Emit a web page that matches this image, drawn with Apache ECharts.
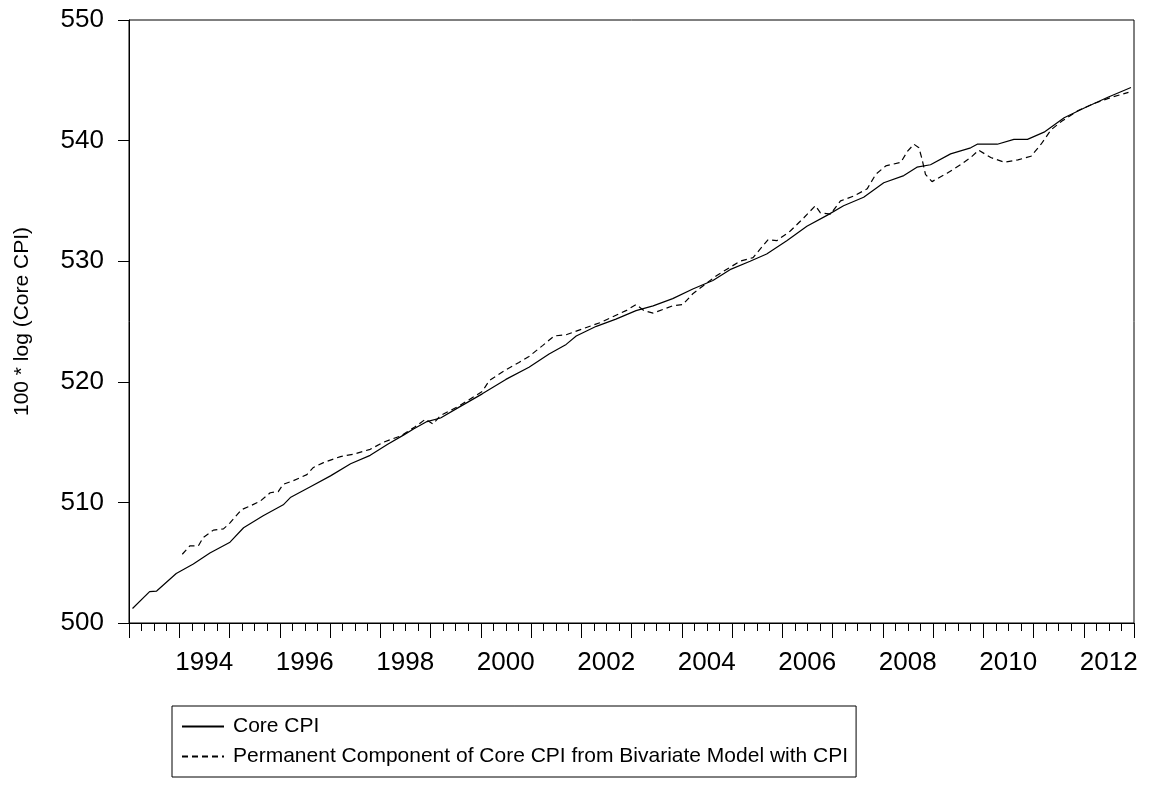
<!DOCTYPE html>
<html>
<head>
<meta charset="utf-8">
<script src="https://cdn.jsdelivr.net/npm/echarts@6/dist/echarts.min.js"></script>
<style>
html,body{margin:0;padding:0;background:#fff;}
#chart{width:1151px;height:787px;}
</style>
</head>
<body>
<div id="chart"></div>
<script>
// ---- Data ----
var coreDates = [1993.07,1993.41,1993.55,1993.94,1994.28,1994.61,1995.01,1995.28,1995.67,1996.07,1996.21,1996.61,1997.01,1997.41,1997.80,1998.14,1998.47,1998.67,1998.93,1999.20,1999.57,2000.03,2000.50,2000.96,2001.36,2001.70,2001.90,2002.30,2002.69,2003.09,2003.43,2003.82,2004.22,2004.62,2004.96,2005.36,2005.69,2006.09,2006.49,2006.89,2007.22,2007.62,2008.02,2008.42,2008.68,2008.95,2009.35,2009.75,2009.88,2010.28,2010.61,2010.88,2011.21,2011.61,2012.01,2012.48,2012.94];
var coreValues = [501.2,502.6,502.65,504.1,504.9,505.8,506.7,507.9,508.9,509.8,510.4,511.3,512.2,513.2,513.9,514.8,515.6,516.1,516.7,517.0,517.9,519.0,520.2,521.2,522.3,523.1,523.8,524.6,525.2,525.9,526.3,526.9,527.7,528.4,529.3,530.0,530.6,531.7,532.9,533.8,534.6,535.3,536.5,537.1,537.8,538.0,538.9,539.4,539.7,539.7,540.1,540.1,540.7,541.9,542.7,543.6,544.4];

var permDates = [1994.06,1994.21,1994.38,1994.48,1994.68,1994.88,1995.01,1995.24,1995.41,1995.61,1995.81,1995.97,1996.07,1996.27,1996.54,1996.67,1996.87,1997.21,1997.47,1997.80,1998.07,1998.40,1998.67,1998.90,1999.05,1999.20,1999.57,2000.03,2000.17,2000.50,2000.76,2000.96,2001.23,2001.46,2001.70,2001.90,2002.37,2002.89,2003.09,2003.25,2003.43,2003.82,2004.02,2004.22,2004.69,2005.16,2005.42,2005.72,2005.89,2006.16,2006.43,2006.66,2006.76,2006.96,2007.16,2007.42,2007.69,2007.86,2008.06,2008.36,2008.49,2008.62,2008.72,2008.78,2008.85,2008.98,2009.28,2009.55,2009.75,2009.91,2010.15,2010.42,2010.69,2010.95,2011.15,2011.35,2011.56,2011.89,2012.22,2012.56,2012.89];
var permValues = [505.7,506.4,506.4,507.1,507.7,507.8,508.3,509.4,509.7,510.1,510.8,510.9,511.5,511.8,512.3,512.9,513.3,513.8,514.0,514.4,515.0,515.5,516.2,516.9,516.5,517.2,518.0,519.2,520.1,521.0,521.6,522.1,523.0,523.8,523.9,524.2,524.9,525.9,526.4,525.9,525.7,526.3,526.4,527.3,528.8,530.0,530.3,531.8,531.7,532.5,533.6,534.6,534.0,533.9,535.0,535.4,536.0,537.2,537.9,538.2,539.1,539.7,539.4,538.5,537.2,536.6,537.3,538.0,538.6,539.2,538.6,538.2,538.4,538.7,539.7,540.9,541.6,542.5,543.1,543.6,544.0];

var seriesNames = ['Core CPI', 'Permanent Component of Core CPI from Bivariate Model with CPI'];
var yAxisName = '100 * log (Core CPI)';
var xMin = 1993, xMax = 2013;
var yMin = 500, yMax = 550, yStep = 10;

function pairs(xs, ys) { return xs.map(function (x, i) { return [x, ys[i]]; }); }

var FONT = '"Liberation Sans", Arial, sans-serif';
var chart = echarts.init(document.getElementById('chart'), null, {renderer: 'canvas'});
chart.setOption({
  animation: false,
  backgroundColor: '#fff',
  grid: {left: 129, right: 17, top: 20, bottom: 164, show: true, borderColor: '#000', borderWidth: 1, backgroundColor: 'transparent'},
  xAxis: {
    type: 'value', min: xMin, max: xMax, interval: 1,
    axisLine: {show: true, lineStyle: {color: '#000', width: 1}},
    axisTick: {show: true, length: 15, lineStyle: {color: '#000', width: 1}},
    minorTick: {show: true, splitNumber: 4, length: 8, lineStyle: {color: '#000', width: 1}},
    splitLine: {show: false},
    axisLabel: {
      margin: 27, color: '#000', fontFamily: FONT, fontSize: 26,
      formatter: function (v) { return (v % 2 === 0 && v < xMax) ? '{a|' + v + '}' : ''; },
      rich: {a: {fontFamily: FONT, fontSize: 26, color: '#000', padding: [0, 0, 0, 50]}}
    }
  },
  yAxis: {
    type: 'value', min: yMin, max: yMax, interval: yStep,
    name: yAxisName, nameLocation: 'middle', nameGap: 96,
    nameTextStyle: {fontFamily: FONT, fontSize: 21, color: '#000'},
    axisLine: {show: true, lineStyle: {color: '#000', width: 1}},
    axisTick: {show: true, length: 11, lineStyle: {color: '#000', width: 1}},
    splitLine: {show: false},
    axisLabel: {margin: 25, color: '#000', fontFamily: FONT, fontSize: 26}
  },
  legend: {
    orient: 'vertical', left: 172, top: 706,
    padding: [10, 8, 10, 9], itemGap: 9, itemWidth: 42, itemHeight: 14,
    borderColor: '#000', borderWidth: 1, backgroundColor: '#fff',
    itemStyle: {color: 'rgba(0,0,0,0)', borderWidth: 0, opacity: 0},
    textStyle: {fontFamily: FONT, fontSize: 21, color: '#000', padding: [0, 0, 0, 4]},
    data: seriesNames
  },
  series: [
    {name: seriesNames[0], type: 'line', data: pairs(coreDates, coreValues), symbol: 'none', showSymbol: false,
     lineStyle: {color: '#000', width: 1.2, type: 'solid'}, itemStyle: {color: '#000'}},
    {name: seriesNames[1], type: 'line', data: pairs(permDates, permValues), symbol: 'none', showSymbol: false,
     lineStyle: {color: '#000', width: 1.2, type: [6, 4]}, itemStyle: {color: '#000'}}
  ]
});
</script>
</body>
</html>
